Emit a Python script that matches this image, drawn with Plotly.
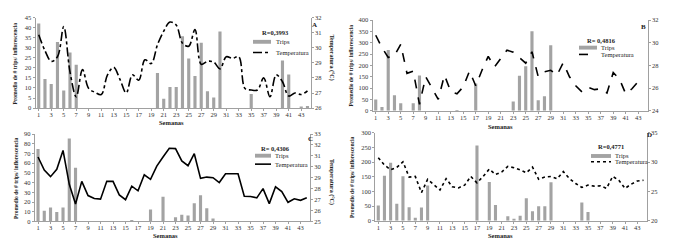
import plotly.graph_objects as go

weeks = list(range(1, 45))
tick_weeks = list(range(1, 44, 2))

trips_A = [42, 14.5, 12, 32.8, 8.8, 27.6, 21.5, 0, 0, 0, 0, 0, 0, 0, 0, 0, 0, 0, 0,
           17.5, 4.7, 10.5, 10.5, 35.7, 24.6, 16, 32.5, 8.4, 5.3, 38.1,
           0, 0, 0, 0, 7, 0, 0, 0, 0, 23.6, 16.7, 0, 0.6, 1]
temp_A = [30.86, 29.8, 29.1, 29.4, 31.4, 28.4, 26.75, 28.55, 27.3, 27.05, 26.9, 28.2,
          28.7, 27.9, 27.0, 28.2, 27.85, 29.2, 28.95, 30.2, 31.1, 31.7, 31.5, 30.3,
          30.1, 31.2, 28.9, 29.1, 29.05, 28.6, 29.4, 29.3, 29.4, 27.3, 27.2, 27.2,
          28.0, 26.75, 28.2, 27.75, 26.8, 27.0, 26.9, 27.15]

trips_B = [50, 17, 268, 68, 33, 0, 33, 155, 0, 0, 0, 0, 0, 2, 0, 0, 120, 0, 0, 0, 0, 0,
           41, 154, 196, 351, 46, 64, 289, 0, 0, 0, 0, 0, 0, 0, 0, 0, 0, 0, 0, 0, 0, 0]
temp_B = [30.66, 29.57, 28.7, 28.86, 29.86, 27.3, 27.5, 24.57, 27.0, 25.94, 25.0, 27.14,
          25.7, 25.5, 26.1, 27.5, 26.2, 27.57, 28.8, 27.86, 28.57, 29.34, 29.17, 28.7,
          28.2, 29.2, 27.0, 27.43, 27.57, 27.14, 28.23, 27.0, 26.2, 25.66, 26.06, 25.86,
          25.94, 25.57, 27.37, 26.8, 25.49, 25.94, 26.57, 26.7]

trips_C = [74.7, 11, 14.3, 9.7, 14.3, 85.3, 55.3, 0, 0, 0, 0, 0, 0, 0, 0, 1, 0, 0, 12.3, 0,
           25.3, 0, 4.3, 7, 6, 18.7, 27, 13.7, 3, 0, 0, 0, 0, 0, 0, 0, 0, 0, 0, 0, 0, 0, 0, 0]
temp_C = [30.9, 29.7, 29.1, 29.77, 31.5, 28.4, 26.6, 28.67, 27.37, 27.1, 27.04, 28.67,
          28.67, 27.43, 26.99, 28.23, 27.8, 29.27, 28.85, 30.07, 30.9, 31.7, 31.67, 30.54,
          30.1, 31.2, 28.94, 29.06, 29.0, 28.56, 29.36, 29.36, 29.36, 27.3, 27.28, 27.16,
          28.0, 26.63, 28.17, 27.73, 26.75, 27.07, 26.93, 27.16]

trips_D = [52, 153, 198, 58, 152, 46, 10, 45, 120, 0, 0, 0, 0, 0, 0, 0, 256, 0, 132, 54, 0,
           15, 7, 17, 77, 32, 49, 49, 131, 0, 0, 0, 0, 62, 30, 0, 0, 0, 0, 0, 0, 0, 0, 0]
temp_D = [30.75, 29.48, 28.7, 29.1, 30.04, 27.44, 27.55, 24.8, 27.06, 26.23, 25.24, 27.17,
          25.8, 25.6, 26.07, 27.55, 26.45, 27.55, 28.8, 27.88, 28.3, 29.26, 29.04, 28.66,
          28.16, 29.15, 27.06, 27.44, 27.55, 27.17, 28.38, 27.17, 26.34, 25.68, 26.07, 25.9,
          25.95, 25.51, 27.55, 26.9, 25.51, 26.23, 26.78, 26.9]

r_labels = ["R=0,3993", "R= 0,4816", "R= 0,4306", "R=0,4771"]
panel_letters = ["A", "B", "C", "D"]
legend_names = ["Trips", "Temperatura"]
left_title = "Promedio de # trips/ inflorescencia"
right_title = "Temperatura (°C)"
x_title = "Semanas"

W, H = 673, 241
FONT = "Liberation Serif"
BAR_COLOR = "#a3a3a3"

# panel geometry in pixels: (x0, x1, ytop, ybottom)
geo = [
    (27.6, 302.6, 5.7, 99.0),
    (364.6, 639.6, 8.3, 101.7),
    (26.9, 301.9, 125.7, 215.7),
    (367.2, 638.6, 124.3, 215.0),
]
left_ranges = [[0, 45], [0, 400], [0, 90], [0, 300]]
left_dticks = [5, 50, 10, 50]
right_ranges = [[26, 32], [24, 32], [25, 33], [20, 35]]
right_dticks = [1, 2, 1, 5]
dashes = ["dashdot", "dash", "solid", "dot"]
shapes_line = ["spline", "linear", "linear", "linear"]
trips_all = [trips_A, trips_B, trips_C, trips_D]
temp_all = [temp_A, temp_B, temp_C, temp_D]

# legend swatches: (x0, x1, y_trips, y_temp, text_x)
legend_geo = [
    (245, 263, 30.7, 41.7, 266),
    (571, 589, 36.7, 43.7, 591),
    (247, 263, 148.0, 156.7, 265),
    (583, 603, 148.3, 154.3, 605),
]
r_pos = [(267, 21), (593, 29), (267, 141), (603, 139)]
letter_pos = [(306, 13), (635, 15), (302, 131), (641, 127)]
ltitle_pos = [(7, 53), (343, 55), (8, 171), (344, 170)]
rtitle_pos = [(323, 47), (661, 55), (323, 175), (661, 183)]
xtitle_pos = [(163, 114), (493, 117.5), (157, 230), (493, 230)]


def px(x):
    return x / W


def py(y):
    return 1 - y / H


fig = go.Figure()
annotations = []
shapes = []
layout = dict(
    width=W, height=H,
    margin=dict(l=0, r=0, t=0, b=0),
    paper_bgcolor="white", plot_bgcolor="white",
    font=dict(family=FONT, size=7, color="#333"),
    showlegend=False,
)

axis_line = dict(showline=True, linecolor="#a0a0a0", linewidth=1, ticks="outside",
                 ticklen=2, tickcolor="#a0a0a0", showgrid=False, zeroline=False,
                 tickfont=dict(family=FONT, size=6.5, color="#333"))


def ann(x, y, text, size, angle=0, xanchor="center"):
    annotations.append(dict(x=px(x), y=py(y), xref="paper", yref="paper",
                            text=text, showarrow=False, textangle=angle,
                            xanchor=xanchor, yanchor="middle",
                            font=dict(family=FONT, size=size, color="#222")))


for i in range(4):
    k = i + 1
    xa = "x" if k == 1 else f"x{k}"
    ya_l = f"y{2*i+1}" if i > 0 else "y"
    ya_r = f"y{2*i+2}"
    x0, x1, yt, yb = geo[i]

    fig.add_trace(go.Bar(x=weeks, y=trips_all[i], name=legend_names[0], xaxis=xa,
                         yaxis=ya_l, marker=dict(color=BAR_COLOR, line=dict(width=0)),
                         width=0.5))
    fig.add_trace(go.Scatter(x=weeks, y=temp_all[i], name=legend_names[1], xaxis=xa,
                             yaxis=ya_r, mode="lines",
                             line=dict(color="black", width=1.6, dash=dashes[i],
                                       shape=shapes_line[i], smoothing=1.0)))

    xkey = "xaxis" if k == 1 else f"xaxis{k}"
    ylkey = "yaxis" if i == 0 else f"yaxis{2*i+1}"
    yrkey = f"yaxis{2*i+2}"
    layout[xkey] = dict(domain=[px(x0), px(x1)], anchor=ya_l, range=[0.5, 44.5],
                        tickvals=tick_weeks, ticktext=[str(t) for t in tick_weeks],
                        ticklabelstandoff=-2, **axis_line)
    layout[ylkey] = dict(domain=[py(yb), py(yt)], anchor=xa, range=left_ranges[i],
                         dtick=left_dticks[i], tick0=0, **axis_line)
    layout[yrkey] = dict(domain=[py(yb), py(yt)], anchor=xa, overlaying=ya_l,
                         side="right", range=right_ranges[i], dtick=right_dticks[i],
                         tick0=right_ranges[i][0], **axis_line)

    # manual legend
    sx0, sx1, ytr, yte, tx = legend_geo[i]
    shapes.append(dict(type="rect", xref="paper", yref="paper",
                       x0=px(sx0), x1=px(sx1), y0=py(ytr + 2), y1=py(ytr - 2),
                       fillcolor=BAR_COLOR, line=dict(width=0)))
    shapes.append(dict(type="line", xref="paper", yref="paper",
                       x0=px(sx0), x1=px(sx1), y0=py(yte), y1=py(yte),
                       line=dict(color="black", width=1.6, dash=dashes[i])))
    ann(tx, ytr, legend_names[0], 6.5, xanchor="left")
    ann(tx, yte, legend_names[1], 6.5, xanchor="left")

    rx, ry = r_pos[i]
    ann(rx, ry, f"<b>{r_labels[i]}</b>", 6.5)
    lx2, ly2 = letter_pos[i]
    ann(lx2, ly2, f"<b>{panel_letters[i]}</b>", 7)
    tx, ty = ltitle_pos[i]
    ann(tx, ty, f"<b>{left_title}</b>", 5.5, angle=-90)
    tx, ty = rtitle_pos[i]
    ann(tx, ty, f"<b>{right_title}</b>", 6, angle=90)
    tx, ty = xtitle_pos[i]
    ann(tx, ty, f"<b>{x_title}</b>", 6.5)

layout["annotations"] = annotations
layout["shapes"] = shapes
fig.update_layout(**layout)
fig.write_html("out.html")
